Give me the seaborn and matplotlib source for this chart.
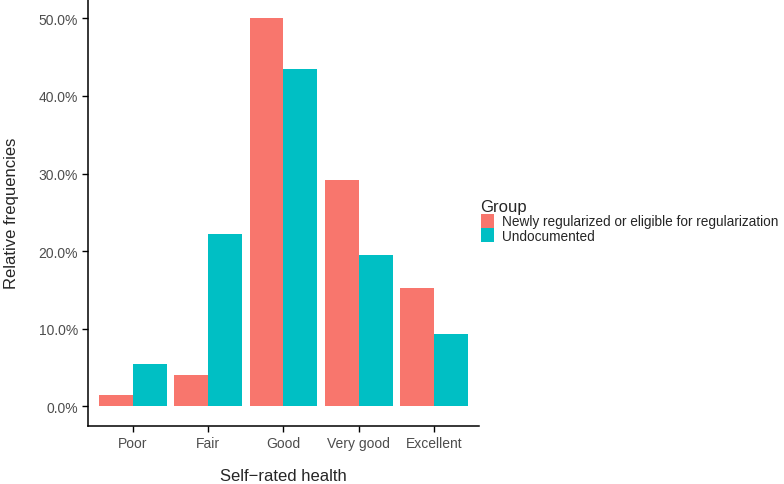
import matplotlib
matplotlib.use("Agg")
import matplotlib.pyplot as plt
import matplotlib.ticker as mticker
import pandas as pd
import seaborn as sns

# Datos
categories = ["Poor", "Fair", "Good", "Very good", "Excellent"]
groups = ["Newly regularized or eligible for regularization", "Undocumented"]
newly = [1.45, 4.0, 50.0, 29.2, 15.3]
undocumented = [5.5, 22.2, 43.5, 19.5, 9.3]
colors = ["#F8766D", "#00BFC4"]

df = pd.DataFrame({
    "health": categories * 2,
    "group": [groups[0]] * len(categories) + [groups[1]] * len(categories),
    "freq": newly + undocumented,
})

sns.set_style("ticks")
plt.rcParams["font.family"] = ["Liberation Sans", "DejaVu Sans"]

fig = plt.figure(figsize=(7.84, 4.85), dpi=100)
ax = fig.add_axes([0.112, 0.12, 0.499, 0.88])

sns.barplot(data=df, x="health", y="freq", hue="group", order=categories,
            hue_order=groups, palette=colors, width=0.9, gap=0,
            linewidth=0, saturation=1, errorbar=None, ax=ax)

ax.set_xlim(-0.6, 4.6)
ax.set_ylim(-2.5, 52.5)
ax.set_yticks([0, 10, 20, 30, 40, 50])
ax.yaxis.set_major_formatter(mticker.FuncFormatter(lambda v, p: f"{v:.1f}%"))

for side in ["top", "right"]:
    ax.spines[side].set_visible(False)
for side in ["left", "bottom"]:
    ax.spines[side].set_linewidth(1.1)
    ax.spines[side].set_color("black")
ax.tick_params(axis="both", length=4, width=1.0, color="black",
               labelsize=10, labelcolor="#4d4d4d", pad=3)

ax.set_xlabel("Self\u2212rated health", fontsize=12, labelpad=13)
ax.set_ylabel("Relative frequencies", fontsize=12, labelpad=14)

leg = ax.legend(title="Group", loc="upper left", bbox_to_anchor=(0.99, 0.545),
                frameon=False, fontsize=9.8, title_fontsize=12,
                handlelength=1.0, handleheight=1.2, handletextpad=0.55,
                labelspacing=0.0, borderaxespad=0.0, alignment="left")

fig.savefig("out.png", dpi=100)
